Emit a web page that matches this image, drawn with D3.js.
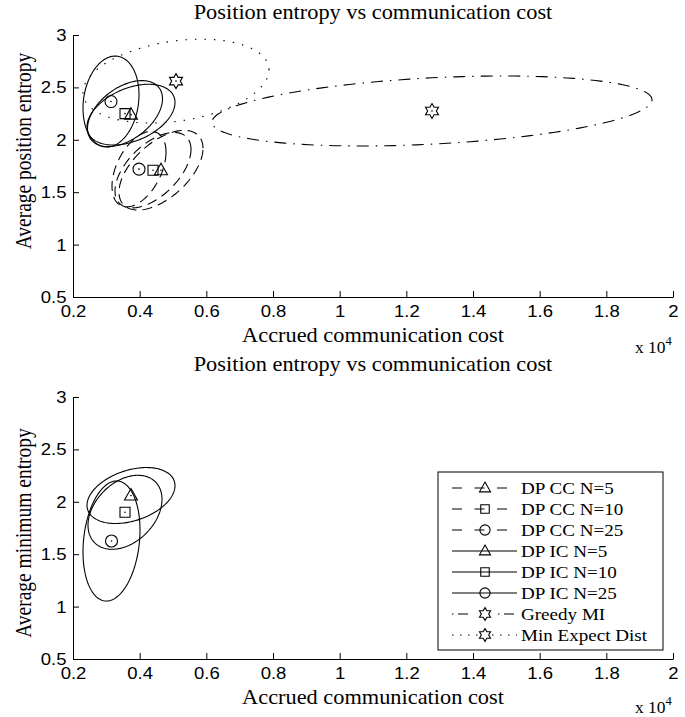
<!DOCTYPE html>
<html>
<head>
<meta charset="utf-8">
<script src="https://cdn.jsdelivr.net/npm/d3@7"></script>
<style>
  body { margin: 0; background: #fff; }
  svg { font-family: "Liberation Serif", "Times New Roman", serif; }
</style>
</head>
<body>
<div id="chart"></div>
<script>
// ---- data ----
const seriesNames = ["DP CC N=5", "DP CC N=10", "DP CC N=25", "DP IC N=5", "DP IC N=10", "DP IC N=25", "Greedy MI", "Min Expect Dist"];

// top panel: mean cost / entropy, half extent of the confidence ellipse, correlation
const topCost       = [4640, 4400, 3980, 3740, 3560, 3140, 12770, 5090];
const topEntropy    = [1.71, 1.71, 1.72, 2.24, 2.25, 2.365, 2.275, 2.56];
const topCostSpread = [1260, 1140, 810, 1320, 1125, 840, 6600, 2790];
const topEntSpread  = [0.38, 0.36, 0.36, 0.29, 0.315, 0.434, 0.334, 0.40];
const topCorr       = [0.55, 0.55, 0.45, 0.4, 0.45, 0.15, 0.32, 0.27];

// bottom panel: only the DP IC runs
const bottomNames      = ["DP IC N=5", "DP IC N=10", "DP IC N=25"];
const bottomCost       = [3740, 3560, 3155];
const bottomEntropy    = [2.06, 1.90, 1.626];
const bottomCostSpread = [1320, 1110, 855];
const bottomEntSpread  = [0.267, 0.353, 0.573];
const bottomCorr       = [0.35, 0.35, 0.18];

const xTicks = [2000, 4000, 6000, 8000, 10000, 12000, 14000, 16000, 18000, 20000];
const yTicks = [0.5, 1, 1.5, 2, 2.5, 3];

// ---- styles ----
const SX = 1.09; // the original figure is a little stretched sideways
const STYLE = {
  "DP CC N=5":       { dash: "10,6",        legDash: "10,12.5",        marker: "triangle" },
  "DP CC N=10":      { dash: "10,6",        legDash: "10,12.5",        marker: "square" },
  "DP CC N=25":      { dash: "10,6",        legDash: "10,12.5",        marker: "circle" },
  "DP IC N=5":       { dash: null,          legDash: null,             marker: "triangle" },
  "DP IC N=10":      { dash: null,          legDash: null,             marker: "square" },
  "DP IC N=25":      { dash: null,          legDash: null,             marker: "circle" },
  "Greedy MI":       { dash: "12,7,1.5,7",  legDash: "1.5,4.5,10,30",  marker: "star" },
  "Min Expect Dist": { dash: "1.5,8",       legDash: "1.5,6.5",        marker: "star" }
};

const W = 685, H = 717;
const svg = d3.select("#chart").append("svg")
  .attr("width", W).attr("height", H);

function markerPath(type, k) {
  k = k || 1;
  if (type === "triangle") return `M0,${-7*k}L${6.5*k},${4.5*k}L${-6.5*k},${4.5*k}Z`;
  if (type === "square") return `M${-5*k},${-5*k}H${5*k}V${5*k}H${-5*k}Z`;
  if (type === "circle") {
    const r = 6 * k;
    return `M${r},0A${r},${r} 0 1,1 ${-r},0A${r},${r} 0 1,1 ${r},0Z`;
  }
  // hexagram
  const pts = [];
  for (let i = 0; i < 12; i++) {
    const r = (i % 2 === 0 ? 7.5 : 4.33) * k;
    const a = -Math.PI / 2 + i * Math.PI / 6;
    pts.push([r * Math.cos(a), r * Math.sin(a)]);
  }
  return "M" + pts.map(p => p.join(",")).join("L") + "Z";
}

function label(g, x, y, size, str, anchor) {
  return g.append("text")
    .attr("transform", `translate(${x},${y}) scale(${SX},1)`)
    .attr("text-anchor", anchor || "middle")
    .style("font-size", size + "px").text(str);
}

function drawPanel(p) {
  const x = d3.scaleLinear().domain([2000, 20000]).range([73, 673]);
  const y = d3.scaleLinear().domain([0.5, 3]).range([p.bottom, p.top]);
  const g = svg.append("g");

  g.append("g")
    .attr("transform", `translate(0,${p.bottom})`)
    .call(d3.axisBottom(x).tickValues(xTicks).tickSizeInner(-6).tickSizeOuter(0)
      .tickPadding(8).tickFormat(d => d3.format("~g")(d / 1e4)))
    .call(a => a.selectAll("text").style("font-size", "17px").attr("fill", "#000")
      .style("font-family", "inherit").attr("transform", `scale(${SX},1)`))
    .call(a => a.selectAll("line,path").attr("stroke", "#000"));

  g.append("g")
    .attr("transform", "translate(73,0)")
    .call(d3.axisLeft(y).tickValues(yTicks).tickSizeInner(-6).tickSizeOuter(0)
      .tickPadding(6).tickFormat(d3.format("~g")))
    .call(a => a.selectAll("text").style("font-size", "17px").attr("fill", "#000")
      .style("font-family", "inherit").attr("transform", `scale(${SX},1)`))
    .call(a => a.selectAll("line,path").attr("stroke", "#000"));

  label(g, 373, p.titleY, 20.5, p.title);
  label(g, 373, p.bottom + 45, 20.5, "Accrued communication cost");
  g.append("text")
    .attr("transform", `translate(31,${p.ylabelY}) scale(1.14,1) rotate(-90)`)
    .attr("text-anchor", "middle").style("font-size", "19.5px").text(p.ylabel);

  const mult = g.append("text")
    .attr("transform", `translate(635,${p.bottom + p.multDy}) scale(${SX},1)`)
    .style("font-size", "16px");
  mult.append("tspan").text("x 10");
  mult.append("tspan").attr("dy", -8).style("font-size", "11.5px").text("4");

  const rows = p.names.map((n, i) => ({
    name: n, cx: p.cost[i], cy: p.ent[i], sx: p.costSpread[i], sy: p.entSpread[i], rho: p.corr[i]
  }));

  const ts = d3.range(0, 2 * Math.PI, Math.PI / 90);
  const line = d3.line().curve(d3.curveLinearClosed);

  g.selectAll("path.ellipse").data(rows).join("path")
    .attr("class", "ellipse")
    .attr("d", d => {
      const c = Math.sqrt(1 - d.rho * d.rho);
      return line(ts.map(t => [
        x(d.cx + d.sx * Math.cos(t)),
        y(d.cy + d.sy * (Math.sin(t) * c + Math.cos(t) * d.rho))
      ]));
    })
    .attr("fill", "none").attr("stroke", "#000").attr("stroke-width", 1.1)
    .attr("stroke-dasharray", d => STYLE[d.name].dash);

  const m = g.selectAll("g.mark").data(rows).join("g")
    .attr("class", "mark")
    .attr("transform", d => `translate(${x(d.cx)},${y(d.cy)})`);
  m.append("path").attr("d", d => markerPath(STYLE[d.name].marker))
    .attr("fill", "none").attr("stroke", "#000").attr("stroke-width", 1.1);
  m.append("circle").attr("r", 0.8).attr("fill", "#000");

  return g;
}

drawPanel({
  top: 35, bottom: 297, titleY: 19, ylabelY: 151, multDy: 56,
  title: "Position entropy vs communication cost",
  ylabel: "Average position entropy",
  names: seriesNames, cost: topCost, ent: topEntropy,
  costSpread: topCostSpread, entSpread: topEntSpread, corr: topCorr
});

const bottomPanel = drawPanel({
  top: 397, bottom: 659, titleY: 371, ylabelY: 533, multDy: 54,
  title: "Position entropy vs communication cost",
  ylabel: "Average minimum entropy",
  names: bottomNames, cost: bottomCost, ent: bottomEntropy,
  costSpread: bottomCostSpread, entSpread: bottomEntSpread, corr: bottomCorr
});

// legend (lower panel)
const legend = bottomPanel.append("g").attr("transform", "translate(438,472)");
legend.append("rect").attr("width", 225).attr("height", 178)
  .attr("fill", "#fff").attr("stroke", "#000").attr("stroke-width", 1);
const item = legend.selectAll("g.item").data(seriesNames).join("g")
  .attr("class", "item")
  .attr("transform", (d, i) => `translate(0,${16 + i * 21})`);
item.append("line").attr("x1", 14).attr("x2", 79)
  .attr("stroke", "#000").attr("stroke-width", 1.1)
  .attr("stroke-dasharray", d => STYLE[d].legDash);
item.append("path").attr("transform", "translate(47,0)")
  .attr("d", d => markerPath(STYLE[d].marker, 0.85))
  .attr("fill", d => STYLE[d].marker === "star" ? "#fff" : "none")
  .attr("stroke", "#000").attr("stroke-width", 1.1);
item.each(function (d) {
  label(d3.select(this), 83, 6, 17.5, d, "start");
});
</script>
</body>
</html>
